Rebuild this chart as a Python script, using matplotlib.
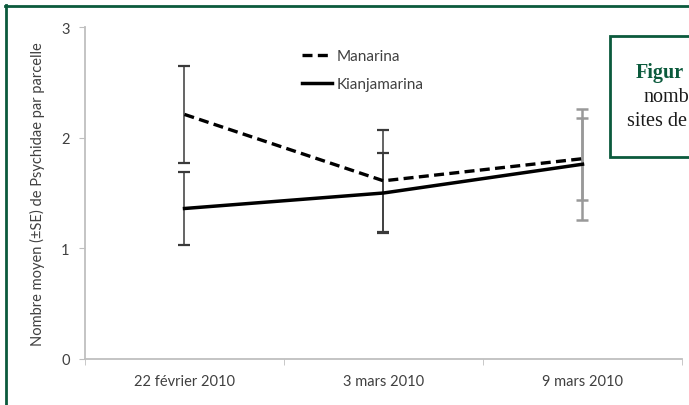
import matplotlib.pyplot as plt
from matplotlib.lines import Line2D
from matplotlib.patches import Rectangle

# données
dates = ['22 février 2010', '3 mars 2010', '9 mars 2010']
manarina = [2.21, 1.61, 1.81]
manarina_se = [0.44, 0.46, 0.37]
kianjamarina = [1.36, 1.50, 1.76]
kianjamarina_se = [0.33, 0.36, 0.50]
y_ticks = [0, 1, 2, 3]

plt.rcParams['font.family'] = ['Lato', 'DejaVu Sans']
text_grey = '#404040'
axis_grey = '#bfbfbf'
green = '#0b5a3c'

W, H = 689, 406
fig = plt.figure(figsize=(W / 100, H / 100), dpi=100)
ax = fig.add_axes([85 / W, 1 - 360 / H, (682 - 85) / W, (360 - 28) / H])

x = list(range(len(dates)))

# barres d'erreur (les deux premières foncées, la dernière grise)
for vals, se in [(manarina, manarina_se), (kianjamarina, kianjamarina_se)]:
    ax.errorbar(x[:2], vals[:2], yerr=se[:2], fmt='none', ecolor='#3a3a3a',
                elinewidth=1.1, capsize=4.5, capthick=1.6, zorder=2)
    ax.errorbar(x[2:], vals[2:], yerr=se[2:], fmt='none', ecolor='#999999',
                elinewidth=1.8, capsize=4.5, capthick=1.8, zorder=2)

ax.plot(x, manarina, color='black', linewidth=2.4, dashes=(3.0, 1.6),
        label='Manarina', zorder=3)
ax.plot(x, kianjamarina, color='black', linewidth=2.5,
        label='Kianjamarina', zorder=3)

ax.set_xlim(-0.5, 2.5)
ax.set_ylim(0, 3)
ax.set_yticks(y_ticks)
ax.set_xticks(x)
ax.set_xticklabels(dates)
ax.set_xticks([-0.5, 0.5, 1.5, 2.5], minor=True)
ax.tick_params(axis='x', which='major', length=0, pad=11, labelsize=10.5,
               labelcolor=text_grey)
ax.tick_params(axis='x', which='minor', length=4, color=axis_grey, direction='out')
ax.tick_params(axis='y', length=4, color=axis_grey, pad=7, labelsize=10.5,
               labelcolor=text_grey)

for side in ['top', 'right']:
    ax.spines[side].set_visible(False)
for side in ['left', 'bottom']:
    ax.spines[side].set_color(axis_grey)
    ax.spines[side].set_linewidth(1.3)

ax.set_ylabel('Nombre moyen (±SE) de Psychidae par parcelle', fontsize=10.5,
              color=text_grey, labelpad=12)

leg = ax.legend(loc='upper left', bbox_to_anchor=(0.363, 0.934), frameon=False,
                handlelength=2.0, handletextpad=0.3, labelspacing=0.95,
                borderpad=0, borderaxespad=0, fontsize=11)
for t in leg.get_texts():
    t.set_color(text_grey)

# cadre vert extérieur
fig.add_artist(Line2D([6 / W, 6 / W], [0, 1 - 6 / H], color=green, linewidth=2))
fig.add_artist(Line2D([5 / W, 1], [1 - 7 / H, 1 - 7 / H], color=green, linewidth=2))

# encadré de légende de la figure (coupé à droite dans l'original)
box = Rectangle((610 / W, 1 - 158 / H), 0.3, (158 - 37) / H,
                transform=fig.transFigure, facecolor='white', edgecolor=green,
                linewidth=2, zorder=5)
fig.add_artist(box)
fig.text(636 / W, 1 - 73 / H, 'Figur', fontsize=14.5, fontweight='bold',
         color=green, family='Liberation Serif', va='center', zorder=6)
fig.text(643 / W, 1 - 97 / H, 'nomb', fontsize=14.5,
         color='#1a1a1a', family='Liberation Serif', va='center', zorder=6)
fig.text(627 / W, 1 - 121 / H, 'sites de', fontsize=14.5,
         color='#1a1a1a', family='Liberation Serif', va='center', zorder=6)

fig.savefig('out.png', dpi=100)
